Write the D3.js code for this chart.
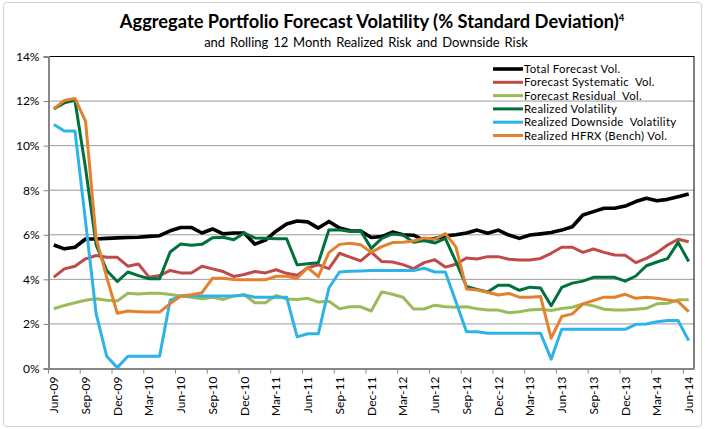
<!DOCTYPE html>
<html>
<head>
<meta charset="utf-8">
<script src="https://cdnjs.cloudflare.com/ajax/libs/d3/7.8.5/d3.min.js"></script>
<style>
  body { margin: 0; background: #fff; }
  svg { display: block; font-family: Lato, "Open Sans", sans-serif; }
</style>
</head>
<body>
<div id="chart"></div>
<script>
'use strict';

// monthly categories Jun-09 .. Jun-14
const months = d3.timeMonth.range(new Date(2009, 5, 1), new Date(2014, 6, 1)).map(d3.timeFormat('%b-%y'));

const yTicks = [0, 2, 4, 6, 8, 10, 12, 14];

const totalForecast = [5.54, 5.37, 5.44, 5.81, 5.81, 5.84, 5.86, 5.88, 5.89, 5.93, 5.96, 6.18, 6.33, 6.33, 6.08,
  6.26, 6.04, 6.08, 6.08, 5.58, 5.76, 6.16, 6.48, 6.62, 6.58, 6.30, 6.60, 6.30, 6.18, 6.17,
  5.88, 5.92, 6.12, 6.00, 5.98, 5.75, 5.83, 5.95, 6.00, 6.08, 6.21, 6.07, 6.21, 5.99, 5.84,
  5.99, 6.04, 6.10, 6.21, 6.36, 6.89, 7.04, 7.19, 7.19, 7.29, 7.49, 7.64, 7.53, 7.59, 7.71, 7.83];

const forecastSystematic = [4.10, 4.47, 4.59, 4.92, 5.07, 4.99, 4.99, 4.59, 4.69, 4.10, 4.17, 4.40, 4.29, 4.29, 4.59,
  4.47, 4.35, 4.13, 4.22, 4.35, 4.29, 4.43, 4.27, 4.18, 4.52, 4.65, 4.48, 5.17, 5.00, 4.83,
  5.22, 4.80, 4.78, 4.66, 4.48, 4.75, 4.88, 4.55, 4.68, 4.96, 4.91, 5.02, 5.02, 4.90, 4.87,
  4.87, 4.94, 5.17, 5.44, 5.44, 5.21, 5.36, 5.21, 5.09, 5.08, 4.75, 4.94, 5.20, 5.54, 5.80, 5.69];

const forecastResidual = [2.68, 2.83, 2.95, 3.06, 3.13, 3.06, 3.03, 3.38, 3.34, 3.38, 3.38, 3.32, 3.25, 3.20, 3.13,
  3.20, 3.10, 3.25, 3.31, 2.95, 2.95, 3.28, 3.12, 3.10, 3.15, 2.98, 3.02, 2.68, 2.77, 2.77,
  2.58, 3.44, 3.33, 3.20, 2.67, 2.67, 2.84, 2.77, 2.75, 2.77, 2.68, 2.62, 2.62, 2.50, 2.55,
  2.63, 2.66, 2.60, 2.69, 2.75, 2.90, 2.81, 2.66, 2.63, 2.63, 2.66, 2.70, 2.90, 2.93, 3.08, 3.08];

const realizedVol = [11.65, 11.92, 12.03, 9.00, 5.54, 4.40, 3.90, 4.33, 4.17, 4.03, 4.03, 5.23, 5.59, 5.53, 5.57,
  5.87, 5.89, 5.78, 6.08, 5.86, 5.84, 5.82, 5.82, 4.65, 4.70, 4.75, 6.22, 6.23, 6.15, 6.18,
  5.39, 5.84, 6.04, 5.99, 5.66, 5.74, 5.63, 5.84, 4.80, 3.68, 3.55, 3.43, 3.74, 3.74, 3.51,
  3.65, 3.61, 2.82, 3.64, 3.83, 3.92, 4.09, 4.09, 4.09, 3.92, 4.15, 4.61, 4.78, 4.93, 5.66, 4.80];

const realizedDownside = [10.95, 10.66, 10.66, 6.60, 2.46, 0.55, 0.04, 0.55, 0.55, 0.55, 0.55, 3.07, 3.25, 3.25, 3.25,
  3.25, 3.25, 3.25, 3.30, 3.20, 3.20, 3.20, 3.20, 1.42, 1.56, 1.56, 3.61, 4.33, 4.36, 4.38,
  4.40, 4.40, 4.40, 4.40, 4.40, 4.50, 4.33, 4.33, 3.00, 1.65, 1.65, 1.58, 1.58, 1.58, 1.58,
  1.58, 1.58, 0.42, 1.76, 1.76, 1.76, 1.76, 1.76, 1.76, 1.76, 1.98, 2.00, 2.10, 2.15, 2.15, 1.25];

const realizedHFRX = [11.65, 12.03, 12.12, 11.10, 5.85, 4.10, 2.48, 2.58, 2.55, 2.53, 2.53, 2.91, 3.25, 3.31, 3.40,
  4.05, 4.05, 3.99, 3.98, 3.98, 3.98, 4.14, 4.14, 4.05, 4.53, 4.12, 5.20, 5.57, 5.62, 5.55,
  5.21, 5.47, 5.65, 5.66, 5.72, 5.86, 5.80, 6.05, 5.46, 3.57, 3.52, 3.42, 3.30, 3.37, 3.20,
  3.20, 3.23, 1.36, 2.33, 2.45, 2.90, 3.05, 3.20, 3.20, 3.33, 3.15, 3.20, 3.15, 3.08, 3.00, 2.55];

const seriesNames = ['Total Forecast Vol.', 'Forecast Systematic  Vol.', 'Forecast Residual  Vol.',
  'Realized Volatility', 'Realized Downside  Volatility', 'Realized HFRX (Bench) Vol.'];
const seriesValues = [totalForecast, forecastSystematic, forecastResidual, realizedVol, realizedDownside, realizedHFRX];
const colors = ['#000000', '#be4b48', '#9bbb59', '#00703c', '#2eb3e8', '#e3812f'];

const width = 705, height = 429;
const margin = { top: 56.5, right: 11, bottom: 60.5, left: 48.5 };

const svg = d3.select('#chart').append('svg')
  .attr('width', width)
  .attr('height', height);

// outer frame
svg.append('rect')
  .attr('x', 3.5).attr('y', 2.5)
  .attr('width', 698).attr('height', 424)
  .attr('rx', 3)
  .attr('fill', '#fff')
  .attr('stroke', '#d0d0d0');

const x = d3.scaleBand()
  .domain(months)
  .range([margin.left, width - margin.right]);

const y = d3.scaleLinear()
  .domain([0, 14])
  .range([height - margin.bottom, margin.top]);

const bw = x.bandwidth();

// gridlines
svg.append('g')
  .selectAll('line')
  .data(yTicks.filter(d => d > 0 && d < 14))
  .enter()
  .append('line')
  .attr('x1', margin.left).attr('x2', width - margin.right)
  .attr('y1', d => y(d)).attr('y2', d => y(d))
  .attr('stroke', '#9a9a9a')
  .attr('stroke-width', 1);

// plot border
svg.append('rect')
  .attr('x', margin.left).attr('y', margin.top)
  .attr('width', width - margin.right - margin.left)
  .attr('height', height - margin.bottom - margin.top)
  .attr('fill', 'none')
  .attr('stroke', '#000');

// y axis
const yAxis = svg.append('g')
  .attr('transform', `translate(${margin.left},0)`)
  .call(d3.axisLeft(y).tickValues(yTicks).tickSize(5).tickPadding(4).tickFormat(d => d + '%'));
yAxis.select('.domain').attr('stroke', '#868686').attr('stroke-width', 2);
yAxis.selectAll('.tick line').attr('stroke', '#868686');
yAxis.selectAll('text').style('font-size', '12px').style('font-family', 'Lato').attr('fill', '#000');

// x axis: ticks on category boundaries, labels on centres
const xAxis = svg.append('g')
  .attr('transform', `translate(0,${height - margin.bottom})`)
  .call(d3.axisBottom(x).tickValues(months.filter((m, i) => i % 3 === 0)).tickSize(5).tickSizeOuter(0));
xAxis.select('.domain').attr('stroke', '#868686').attr('stroke-width', 2);
xAxis.selectAll('.tick line')
  .attr('x1', -bw / 2).attr('x2', -bw / 2)
  .attr('stroke', '#868686');
xAxis.selectAll('text')
  .attr('transform', 'rotate(-90)')
  .attr('text-anchor', 'end')
  .attr('x', -8).attr('y', 0).attr('dy', '0.36em')
  .style('font-size', '12px').style('font-family', 'Lato')
  .attr('fill', '#000');

// lines
const line = d3.line()
  .x((d, i) => x(months[i]) + bw / 2)
  .y(d => y(d));

svg.append('g')
  .selectAll('path')
  .data(seriesValues)
  .enter()
  .append('path')
  .attr('d', line)
  .attr('fill', 'none')
  .attr('stroke', (d, i) => colors[i])
  .attr('stroke-width', (d, i) => i === 0 ? 3.6 : 3)
  .attr('stroke-linejoin', 'round');

// legend
const legend = svg.append('g')
  .selectAll('g')
  .data(seriesNames)
  .enter()
  .append('g')
  .attr('transform', (d, i) => `translate(493,${69 + i * 13.3})`);

legend.append('line')
  .attr('x1', 0).attr('x2', 30)
  .attr('stroke', (d, i) => colors[i])
  .attr('stroke-width', (d, i) => i === 0 ? 3.6 : 3);

legend.append('text')
  .attr('x', 31)
  .attr('dy', '0.35em')
  .style('font-size', '11.4px')
  .style('letter-spacing', '0.3px')
  .style('white-space', 'pre')
  .text(d => d);

// titles
const title = svg.append('text')
  .attr('x', 372).attr('y', 28)
  .attr('text-anchor', 'middle')
  .style('font-size', '18.3px')
  .style('font-weight', 'bold');
title.append('tspan').text('Aggregate Portfolio Forecast Volatility (% Standard Deviation)');
title.append('tspan').attr('dy', -7).style('font-size', '9.5px').text('4');

svg.append('text')
  .attr('x', 366).attr('y', 47)
  .attr('text-anchor', 'middle')
  .style('font-size', '13px')
  .style('word-spacing', '1.5px')
  .text('and Rolling 12 Month Realized Risk and Downside Risk');
</script>
</body>
</html>
